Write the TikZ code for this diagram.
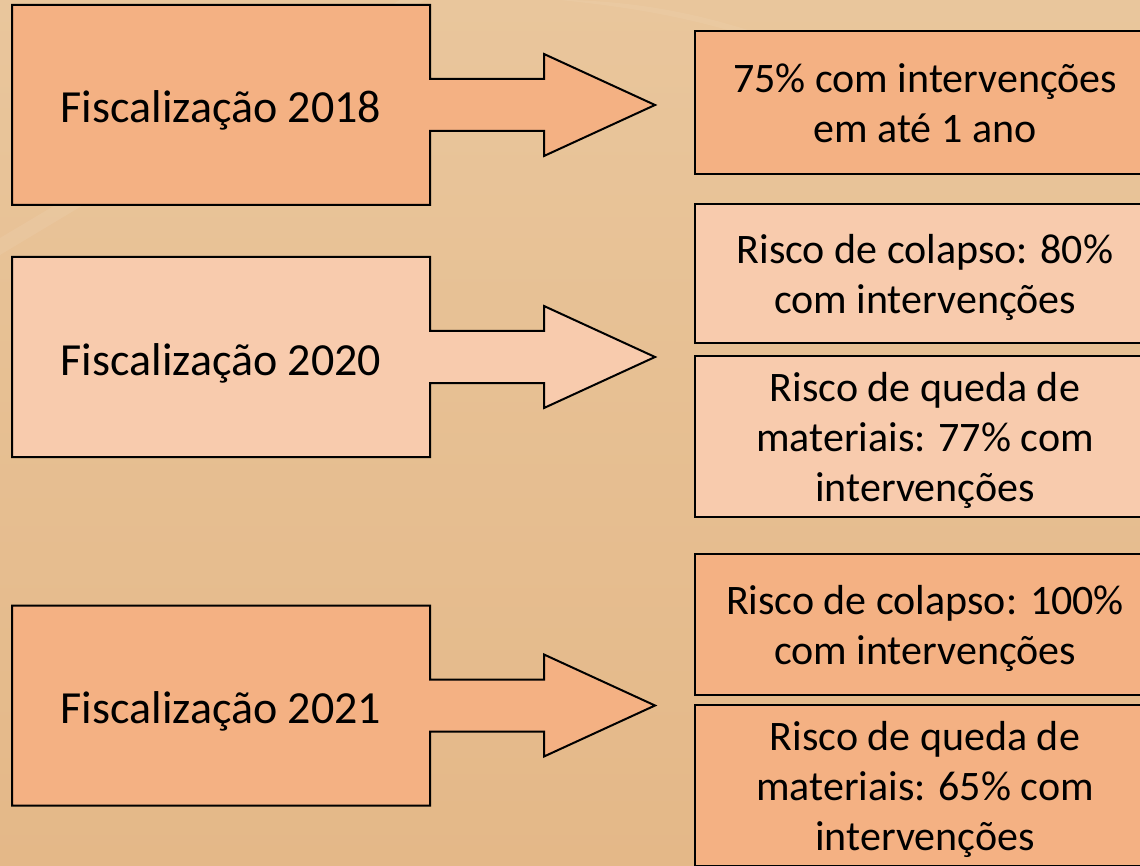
\documentclass[tikz,border=0pt]{standalone}
\usepackage{fontspec}
\setmainfont{Carlito}
\definecolor{bgtop}{HTML}{E9C69C}
\definecolor{bgbot}{HTML}{E4B888}
\definecolor{darkfill}{HTML}{F4B183}
\definecolor{lightfill}{HTML}{F8CBAD}
\newcommand\mystrut{\rule[-10pt]{0pt}{50pt}}
\newcommand\leftstrut{\rule[-10pt]{0pt}{56pt}}
% #1 = centre y, #2 = fill colour
\newcommand\fiscshape[2]{%
  \draw[arrowbox, fill=#2]
    (12,#1-100) -- (430,#1-100) -- (430,#1-26) -- (544,#1-26) -- (544,#1-51)
    -- (655,#1) -- (544,#1+51) -- (544,#1+26) -- (430,#1+26) -- (430,#1+100)
    -- (12,#1+100) -- cycle;}
\begin{document}
\begin{tikzpicture}[x=1pt,y=-1pt,
  boxtxt/.style={font=\fontsize{42}{50}\selectfont, align=center, inner sep=0pt},
  arrowbox/.style={draw=black, line width=2pt, line join=miter},
  rbox/.style={draw=black, line width=2pt, minimum width=460pt, inner sep=0pt, boxtxt},
  ltxt/.style={font=\fontsize{46}{56}\selectfont, inner sep=0pt}]
\useasboundingbox (0,0) rectangle (1140,866);
\begin{scope}
\clip (0,0) rectangle (1140,866);
\shade[top color=bgtop, bottom color=bgbot] (0,0) rectangle (1140,866);
\fill[white, opacity=0.07] (0,238) -- (400,0) -- (425,0) -- (0,255) -- cycle;
\fill[white, opacity=0.06] (560,0) .. controls (640,8) and (700,20) .. (760,40) -- (760,34) .. controls (700,14) and (640,2) .. (570,0) -- cycle;

% left shapes
\fiscshape{105}{darkfill}
\fiscshape{357}{lightfill}
\fiscshape{705.5}{darkfill}
\node[ltxt] (f2018) at (221,105) {\leftstrut Fiscalização 2018};
\node[ltxt] (f2020) at (221,357) {\leftstrut Fiscalização 2020};
\node[ltxt] (f2021) at (221,705.5) {\leftstrut Fiscalização 2021};

% right boxes
\node[rbox, fill=darkfill, minimum height=143pt] (r1) at (925,102.5)
  {\mystrut 75\% com intervenções\\\mystrut em até 1 ano};
\node[rbox, fill=lightfill, minimum height=139pt] (r2) at (925,273.5)
  {\mystrut Risco de colapso: 80\%\\\mystrut com intervenções};
\node[rbox, fill=lightfill, minimum height=161pt] (r3) at (925,436.5)
  {\mystrut Risco de queda de\\\mystrut materiais: 77\% com\\\mystrut intervenções};
\node[rbox, fill=darkfill, minimum height=141pt] (r4) at (925,624.5)
  {\mystrut Risco de colapso: 100\%\\\mystrut com intervenções};
\node[rbox, fill=darkfill, minimum height=161pt] (r5) at (925,785.5)
  {\mystrut Risco de queda de\\\mystrut materiais: 65\% com\\\mystrut intervenções};
\end{scope}
\end{tikzpicture}
\end{document}
